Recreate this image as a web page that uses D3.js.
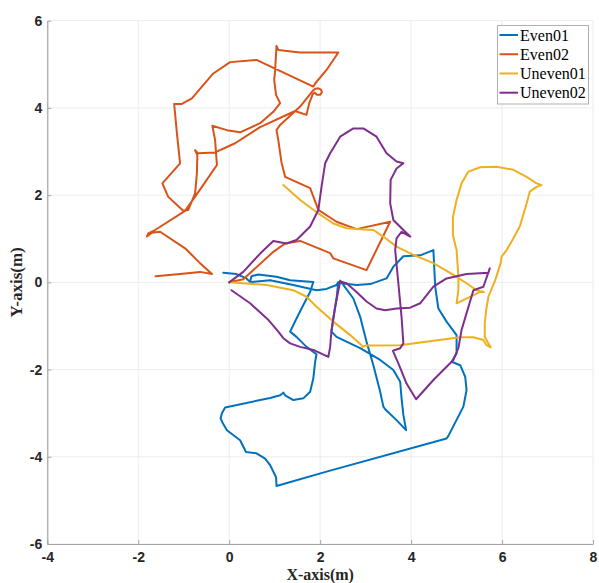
<!DOCTYPE html>
<html>
<head>
<meta charset="utf-8">
<script src="https://cdn.jsdelivr.net/npm/d3@7"></script>
<style>
  html, body { margin: 0; padding: 0; background: #fff; }
  svg { display: block; }
</style>
</head>
<body>
<svg id="chart" width="599" height="583"></svg>
<script>
// ---------------- data (metres) ----------------
const seriesNames = ["Even01", "Even02", "Uneven01", "Uneven02"];
const seriesColors = ["#0072BD", "#D95319", "#EDB120", "#7E2F8E"];
const xTicks = [-4, -2, 0, 2, 4, 6, 8];
const yTicks = [-6, -4, -2, 0, 2, 4, 6];

const even01 = [
  [-0.13,0.22],[0.16,0.19],[0.38,0.09],[0.46,0.01],[0.49,0.14],[0.64,0.18],[1.04,0.13],[1.34,0.05],[1.85,0.01],
  [1.78,-0.22],[1.63,-0.52],[1.48,-0.83],[1.34,-1.13],[1.48,-1.25],[1.70,-1.48],[1.92,-1.65],[1.89,-1.82],
  [1.85,-2.20],[1.78,-2.51],[1.63,-2.66],[1.41,-2.70],[1.23,-2.59],[1.19,-2.53],[1.12,-2.59],[0.90,-2.65],
  [-0.09,-2.87],[-0.16,-3.00],[-0.19,-3.12],[-0.14,-3.23],[-0.05,-3.39],[0.24,-3.62],[0.37,-3.89],[0.60,-3.92],
  [0.79,-4.04],[0.90,-4.19],[1.03,-4.47],[1.04,-4.67],[2.14,-4.34],[4.78,-3.58],[4.82,-3.52],[5.15,-2.85],
  [5.22,-2.47],[5.19,-2.17],[5.08,-1.90],[4.89,-1.82],[5.00,-1.63],[5.00,-1.21],[4.78,-0.90],[4.60,-0.60],
  [4.53,-0.10],[4.49,0.74],[4.20,0.62],[3.83,0.60],[3.61,0.36],[3.46,0.09],[3.10,-0.04],[2.80,-0.06],
  [2.47,-0.02],[2.44,0.04],[2.73,-0.37],[2.88,-0.79],[3.02,-1.36],[3.17,-1.90],[3.32,-2.51],[3.39,-2.85],
  [3.43,-2.91],[3.68,-3.16],[3.89,-3.39],[3.83,-3.04],[3.79,-2.66],[3.76,-2.28],[3.61,-2.01],[3.32,-1.78],
  [2.88,-1.51],[2.36,-1.25],[2.25,-1.13],[2.29,-0.83],[2.36,-0.37],[2.40,0.01],[2.36,-0.06],[2.14,-0.15],
  [1.92,-0.18],[1.41,-0.06],[0.90,0.05],[0.50,0.01]
];

const even02 = [
  [0.00,0.00],[0.31,0.07],[0.97,0.70],[1.23,0.89],[1.56,0.95],[2.22,0.67],[2.29,0.55],[3.02,0.28],[3.54,1.39],
  [2.80,1.22],[2.36,1.39],[1.96,1.66],[1.78,2.16],[1.23,2.42],[1.15,2.75],[1.08,3.26],[1.04,3.49],[1.12,3.61],
  [1.56,4.03],[1.85,4.41],[1.90,4.44],[1.96,4.45],[2.02,4.42],[2.04,4.36],[2.00,4.30],[1.93,4.30],[1.88,4.35],
  [1.84,4.32],[1.76,4.11],[1.70,3.84],[1.45,3.93],[0.68,3.56],[0.13,3.19],[-0.31,2.98],[-0.69,2.96],[-0.75,3.03],
  [-0.70,2.92],[-0.71,2.50],[-0.75,2.04],[-0.90,1.66],[-1.01,1.64],[-1.34,1.96],[-1.47,2.27],[-1.08,2.73],
  [-1.15,3.42],[-1.21,4.09],[-1.04,4.09],[-0.82,4.22],[-0.35,4.79],[0.02,5.05],[0.60,5.10],[1.85,4.49],
  [1.89,4.56],[2.14,4.87],[2.40,5.27],[1.56,5.27],[1.08,5.33],[1.04,5.42],[1.01,4.87],[0.99,4.64],[1.03,4.30],
  [1.12,4.11],[0.97,3.91],[0.68,3.65],[0.24,3.44],[-0.05,3.49],[-0.37,3.59],[-0.31,3.26],[-0.27,2.69],
  [-0.60,2.19],[-0.97,1.64],[-1.63,1.20],[-1.78,1.12],[-1.81,1.05],[-1.70,1.14],[-1.52,1.16],[-0.97,0.78],
  [-0.64,0.44],[-0.38,0.19],[-0.64,0.24],[-1.08,0.19],[-1.62,0.14]
];

const uneven01 = [
  [0.00,0.00],[0.82,-0.06],[1.41,-0.18],[1.70,-0.33],[1.92,-0.56],[2.29,-0.90],[2.66,-1.21],[2.91,-1.44],
  [2.93,-1.48],[3.00,-1.45],[3.76,-1.44],[4.12,-1.39],[5.08,-1.26],[5.37,-1.26],[5.59,-1.32],[5.66,-1.44],
  [5.75,-1.49],[5.70,-1.40],[5.62,-1.25],[5.62,-0.94],[5.65,-0.64],[5.70,-0.33],[5.85,0.05],[5.97,0.44],
  [5.99,0.59],[6.10,0.74],[6.25,1.01],[6.39,1.28],[6.54,1.81],[6.61,2.08],[6.76,2.19],[6.87,2.23],
  [6.76,2.27],[6.54,2.42],[6.25,2.58],[5.88,2.65],[5.52,2.64],[5.26,2.54],[5.11,2.27],[5.00,1.89],
  [4.92,1.50],[4.92,1.08],[5.00,0.74],[5.04,0.13],[5.04,-0.18],[5.00,-0.48],[5.52,-0.22],[5.60,-0.22],
  [5.44,-0.18],[5.22,-0.02],[4.93,0.17],[4.49,0.44],[4.05,0.63],[3.68,0.82],[3.39,1.05],[3.17,1.20],
  [2.88,1.22],[2.58,1.24],[2.29,1.35],[1.96,1.58],[1.56,1.89],[1.19,2.23]
];

const uneven02 = [
  [0.05,-0.18],[0.46,-0.48],[0.86,-0.86],[1.08,-1.13],[1.19,-1.28],[1.34,-1.40],[1.56,-1.48],[1.85,-1.55],
  [2.18,-1.71],[2.22,-1.48],[2.25,-1.09],[2.33,-0.56],[2.44,0.02],[2.58,-0.02],[2.80,-0.22],[3.02,-0.44],
  [3.24,-0.60],[3.43,-0.64],[3.68,-0.60],[3.98,-0.58],[4.20,-0.48],[4.49,-0.10],[4.78,0.09],[5.22,0.19],
  [5.70,0.22],[5.73,0.32],[5.59,-0.10],[5.37,-0.18],[5.11,-1.09],[5.04,-1.51],[4.93,-1.78],[4.49,-2.24],
  [4.11,-2.68],[3.90,-2.32],[3.72,-1.86],[3.60,-1.57],[3.76,-1.51],[3.83,-1.40],[3.79,-0.79],[3.72,-0.02],
  [3.65,0.74],[3.68,1.01],[3.79,1.16],[3.98,1.05],[3.83,1.20],[3.61,1.43],[3.54,1.81],[3.55,2.35],
  [3.68,2.61],[3.83,2.73],[3.68,2.77],[3.46,2.96],[3.24,3.34],[2.95,3.53],[2.73,3.53],[2.44,3.34],
  [2.22,2.96],[2.11,2.73],[2.03,2.19],[1.96,1.66],[1.78,1.28],[1.48,0.97],[1.26,0.89],[0.97,0.95],
  [0.68,0.66],[0.31,0.24],[0.00,0.00]
];

const seriesData = [even01, even02, uneven01, uneven02];

// ---------------- layout ----------------
const svg = d3.select("#chart");
const mLeft = 47.3, mRight = 593, mTop = 20.7, mBottom = 544;

const x = d3.scaleLinear().domain([-4, 8]).range([mLeft, mRight]);
const y = d3.scaleLinear().domain([-6, 6]).range([mBottom, mTop]);

const tickFont = "'Liberation Sans', Arial, Helvetica, sans-serif";
const serifFont = "'Liberation Serif', 'Times New Roman', serif";

// grid
const grid = svg.append("g");
grid.selectAll("line.gx").data(xTicks).join("line")
  .attr("class", "gx")
  .attr("x1", d => x(d)).attr("x2", d => x(d))
  .attr("y1", mTop).attr("y2", mBottom)
  .attr("stroke", "#ececec").attr("stroke-width", 1);
grid.selectAll("line.gy").data(yTicks).join("line")
  .attr("class", "gy")
  .attr("y1", d => y(d)).attr("y2", d => y(d))
  .attr("x1", mLeft).attr("x2", mRight)
  .attr("stroke", "#ececec").attr("stroke-width", 1);

// axes
const xAxis = d3.axisBottom(x).tickValues(xTicks).tickSizeInner(-4).tickSizeOuter(0).tickPadding(8);
const yAxis = d3.axisLeft(y).tickValues(yTicks).tickSizeInner(-4).tickSizeOuter(0).tickPadding(5);

const gx = svg.append("g").attr("transform", `translate(0,${mBottom})`).call(xAxis);
const gy = svg.append("g").attr("transform", `translate(${mLeft},0)`).call(yAxis);

[gx, gy].forEach(g => {
  g.select(".domain").attr("stroke", "#a6a6a6").attr("stroke-width", 1.2);
  g.selectAll(".tick line").attr("stroke", "#a6a6a6");
  g.selectAll(".tick text")
    .attr("fill", "#262626")
    .style("font-family", tickFont)
    .style("font-size", "14px")
    .style("font-weight", "bold")
    .text(d => d < 0 ? "-" + Math.abs(d) : String(d));
});

// lines
const line = d3.line().x(d => x(d[0])).y(d => y(d[1])).curve(d3.curveLinear);
const plot = svg.append("g");
seriesData.forEach((data, i) => {
  plot.append("path")
    .datum(data)
    .attr("d", line)
    .attr("fill", "none")
    .attr("stroke", seriesColors[i])
    .attr("stroke-width", 2)
    .attr("stroke-linejoin", "round")
    .attr("stroke-linecap", "round");
});

// axis labels
svg.append("text")
  .attr("x", (mLeft + mRight) / 2).attr("y", 579.5)
  .attr("text-anchor", "middle")
  .style("font-family", serifFont).style("font-size", "16px").style("font-weight", "bold")
  .attr("fill", "#262626")
  .text("X-axis(m)");

svg.append("text")
  .attr("transform", `translate(22,${(mTop + mBottom) / 2}) rotate(-90)`)
  .attr("text-anchor", "middle")
  .style("font-family", serifFont).style("font-size", "17px").style("font-weight", "bold")
  .attr("fill", "#262626")
  .text("Y-axis(m)");

// legend
const lg = svg.append("g");
lg.append("rect")
  .attr("x", 497.5).attr("y", 25.5).attr("width", 91).attr("height", 78.5)
  .attr("fill", "#fff").attr("stroke", "#b0b0b0").attr("stroke-width", 1);
const legendY = d3.scalePoint().domain(seriesNames).range([35, 92.7]);
seriesNames.forEach((name, i) => {
  const yy = legendY(name);
  lg.append("line")
    .attr("x1", 499.5).attr("x2", 518).attr("y1", yy).attr("y2", yy)
    .attr("stroke", seriesColors[i]).attr("stroke-width", 2);
  lg.append("text")
    .attr("x", 520).attr("y", yy).attr("dy", "0.35em")
    .style("font-family", serifFont).style("font-size", "16px")
    .attr("fill", "#000")
    .text(name);
});
</script>
</body>
</html>
